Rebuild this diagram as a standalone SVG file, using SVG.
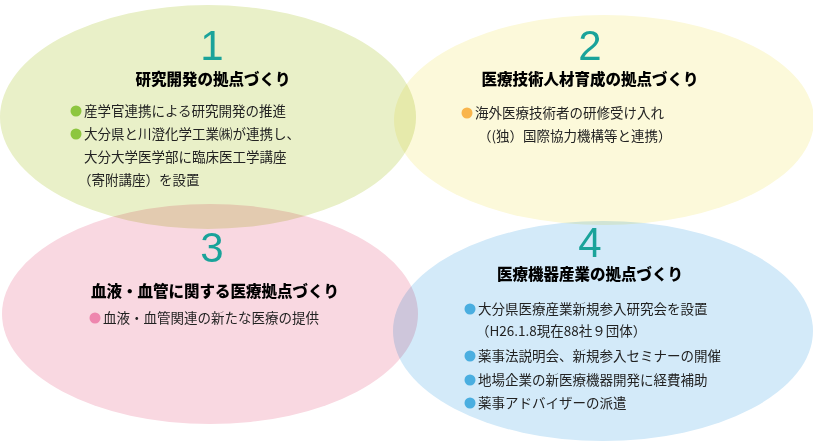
<svg xmlns="http://www.w3.org/2000/svg" width="813" height="442" viewBox="0 0 813 442">
<style>
.e{mix-blend-mode:multiply}
.n{font-family:"Liberation Sans",Arial,sans-serif;font-size:42px;fill:#1aa39a;text-anchor:middle}
.h{font-family:"Noto Sans CJK JP",sans-serif;font-size:15.5px;font-weight:900;fill:#000;text-anchor:middle}
.t{font-family:"Noto Sans CJK JP",sans-serif;font-size:13.5px;fill:#222}
</style>
<rect width="813" height="442" fill="#fff"/>
<g id="node1"><ellipse class="e" cx="208" cy="117" rx="208" ry="112" fill="#e9f0c8"/></g>
<g id="node2"><ellipse class="e" cx="604" cy="120" rx="210" ry="105" fill="#fcf9da"/></g>
<g id="node3"><ellipse class="e" cx="210" cy="314" rx="208" ry="110" fill="#f9d8e1"/></g>
<g id="node4"><ellipse class="e" cx="603" cy="331" rx="210" ry="110" fill="#d3eaf9"/></g>
<g id="labels1">
<text class="n" x="212" y="60">1</text>
<text class="h" x="213" y="85">研究開発の拠点づくり</text>
<circle cx="76" cy="111" r="5.5" fill="#8dc63f"/>
<text class="t" x="84" y="116">産学官連携による研究開発の推進</text>
<circle cx="76" cy="134" r="5.5" fill="#8dc63f"/>
<text class="t" x="84" y="139">大分県と川澄化学工業㈱が連携し、</text>
<text class="t" x="84" y="162">大分大学医学部に臨床医工学講座</text>
<text class="t" x="78" y="185">（寄附講座）を設置</text>
</g>
<g id="labels2">
<text class="n" x="590" y="60">2</text>
<text class="h" x="590" y="85">医療技術人材育成の拠点づくり</text>
<circle cx="467" cy="113" r="5.5" fill="#f9b54c"/>
<text class="t" x="475" y="118">海外医療技術者の研修受け入れ</text>
<text class="t" x="478" y="141">（(独）国際協力機構等と連携）</text>
</g>
<g id="labels3">
<text class="n" x="212" y="262">3</text>
<text class="h" x="215" y="297">血液・血管に関する医療拠点づくり</text>
<circle cx="95" cy="318" r="5.5" fill="#ee86ae"/>
<text class="t" x="103" y="323">血液・血管関連の新たな医療の提供</text>
</g>
<g id="labels4">
<text class="n" x="590" y="257">4</text>
<text class="h" x="590" y="280">医療機器産業の拠点づくり</text>
<circle cx="470" cy="309" r="5.5" fill="#4aaee0"/>
<text class="t" x="478" y="314">大分県医療産業新規参入研究会を設置</text>
<text class="t" x="476" y="336">（H26.1.8現在88社９団体）</text>
<circle cx="470" cy="356" r="5.5" fill="#4aaee0"/>
<text class="t" x="478" y="361">薬事法説明会、新規参入セミナーの開催</text>
<circle cx="470" cy="380" r="5.5" fill="#4aaee0"/>
<text class="t" x="478" y="385">地場企業の新医療機器開発に経費補助</text>
<circle cx="470" cy="403" r="5.5" fill="#4aaee0"/>
<text class="t" x="478" y="408">薬事アドバイザーの派遣</text>
</g>
<g id="connectors"/>
</svg>
